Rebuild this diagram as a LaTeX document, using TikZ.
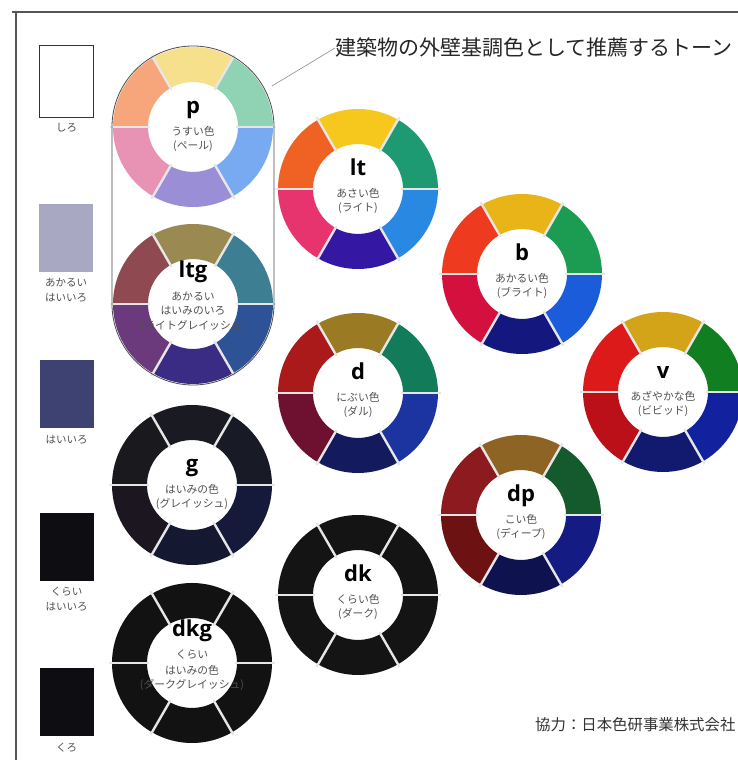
\documentclass[tikz,border=0pt]{standalone}
\usepackage{fontspec}
\newfontfamily\jp{Noto Sans CJK JP}
\newfontfamily\lat{Open Sans}
\usetikzlibrary{calc}
% pale
\definecolor{pA}{HTML}{F6E08C}\definecolor{pB}{HTML}{90D2B4}\definecolor{pC}{HTML}{78AAF2}
\definecolor{pD}{HTML}{9A8ED6}\definecolor{pE}{HTML}{E892B4}\definecolor{pF}{HTML}{F6A67A}
% light grayish
\definecolor{gA}{HTML}{9A8A52}\definecolor{gB}{HTML}{3E7E92}\definecolor{gC}{HTML}{2E5296}
\definecolor{gD}{HTML}{3A2C84}\definecolor{gE}{HTML}{6A3A7C}\definecolor{gF}{HTML}{8E4A50}
% light
\definecolor{lA}{HTML}{F6C81E}\definecolor{lB}{HTML}{1E9A72}\definecolor{lC}{HTML}{2888E2}
\definecolor{lD}{HTML}{3418A4}\definecolor{lE}{HTML}{E8346E}\definecolor{lF}{HTML}{F06224}
% bright
\definecolor{bA}{HTML}{E8B418}\definecolor{bB}{HTML}{1C9C52}\definecolor{bC}{HTML}{1A5CDA}
\definecolor{bD}{HTML}{14187E}\definecolor{bE}{HTML}{D4103E}\definecolor{bF}{HTML}{EE3A1E}
% vivid
\definecolor{vA}{HTML}{D4A418}\definecolor{vB}{HTML}{127E22}\definecolor{vC}{HTML}{12229E}
\definecolor{vD}{HTML}{121A70}\definecolor{vE}{HTML}{BC1018}\definecolor{vF}{HTML}{DC1A1A}
% dull
\definecolor{dA}{HTML}{9A7A22}\definecolor{dB}{HTML}{127C5A}\definecolor{dC}{HTML}{1C34A0}
\definecolor{dD}{HTML}{141A5E}\definecolor{dE}{HTML}{6E1030}\definecolor{dF}{HTML}{AA1A1A}
% deep
\definecolor{eA}{HTML}{8E6424}\definecolor{eB}{HTML}{145A2C}\definecolor{eC}{HTML}{141C84}
\definecolor{eD}{HTML}{0E124E}\definecolor{eE}{HTML}{6C1212}\definecolor{eF}{HTML}{8C1A1E}
% grayish / dark / dark grayish
\definecolor{kA}{HTML}{1A1A22}\definecolor{kB}{HTML}{181A26}\definecolor{kC}{HTML}{161A3A}
\definecolor{kD}{HTML}{141830}\definecolor{kE}{HTML}{1C1620}\definecolor{kF}{HTML}{1A1A1E}
\definecolor{dark}{HTML}{141414}
\definecolor{darker}{HTML}{121212}
% misc
\definecolor{txtgray}{HTML}{505050}
\definecolor{framegray}{HTML}{555555}
\definecolor{swgray}{HTML}{A9A8C2}
\definecolor{swnavy}{HTML}{3E4272}
\definecolor{swblack}{HTML}{0E0E12}
\definecolor{sepcol}{HTML}{E6E6E6}

\newcommand\tonering[7]{%
  \begin{scope}[shift={(#1)}]
    \foreach \s/\c in {60/#2,0/#3,-60/#4,240/#5,180/#6,120/#7}{%
      \fill[\c] ({\s}:80pt) arc[start angle={\s},end angle={\s+60},radius=80pt]
        -- ({\s+60}:45pt) arc[start angle={\s+60},end angle={\s},radius=45pt] -- cycle;}
    \foreach \a in {0,60,...,300}{\draw[sepline] (\a:43pt) -- (\a:83pt);}
  \end{scope}}
\newcommand\twoline[4]{%
  \node[letter,anchor=base] (#1-t) at ($(#1)+(0,13)$) {#2};
  \node[jtext] (#1-a) at ($(#1)+(0,-4)$) {#3};
  \node[jtext] (#1-b) at ($(#1)+(0,-19)$) {#4};}
\newcommand\threeline[5]{%
  \node[letter,anchor=base] (#1-t) at ($(#1)+(0,26)$) {#2};
  \node[jtext] (#1-a) at ($(#1)+(0,8)$) {#3};
  \node[jtext] (#1-b) at ($(#1)+(0,-7)$) {#4};
  \node[jtext] (#1-c) at ($(#1)+(0,-22)$) {#5};}

\begin{document}
\begin{tikzpicture}[x=1pt,y=1pt,
  sepline/.style={draw=sepcol,line width=2.4pt},
  letter/.style={font=\lat\bfseries\fontsize{22}{22}\selectfont,text=black,inner sep=0pt},
  jtext/.style={font=\jp\fontsize{10.8}{12}\selectfont,text=txtgray,inner sep=0pt},
  swlabel/.style={font=\jp\fontsize{10.5}{12}\selectfont,text=txtgray,inner sep=0pt},
  swatch/.style={minimum width=54pt,minimum height=68pt,inner sep=0pt},
  framel/.style={draw=framegray,line width=1.2pt},
  outline/.style={draw=black!70,line width=0.8pt},
  leader/.style={draw=black!45,line width=0.6pt},
  titletext/.style={font=\jp\fontsize{21}{24}\selectfont,text=black!85,inner sep=0pt},
  foottext/.style={font=\jp\fontsize{15.4}{18}\selectfont,text=black!80,inner sep=0pt}]
\useasboundingbox (0,0) rectangle (738,760);
\fill[white] (0,0) rectangle (738,760);
% frame
\draw[framel] (12,748) -- (738,748);
\draw[framel] (16,748) -- (16,0);

% ring centres
\coordinate (p) at (193,633);
\coordinate (ltg) at (193,456);
\coordinate (lt) at (358,571);
\coordinate (b) at (522,486);
\coordinate (v) at (663,368);
\coordinate (d) at (358,367);
\coordinate (g) at (192,275);
\coordinate (dp) at (521,245);
\coordinate (dk) at (358,165);
\coordinate (dkg) at (192,97);

\tonering{p}{pA}{pB}{pC}{pD}{pE}{pF}
\tonering{ltg}{gA}{gB}{gC}{gD}{gE}{gF}
\tonering{lt}{lA}{lB}{lC}{lD}{lE}{lF}
\tonering{b}{bA}{bB}{bC}{bD}{bE}{bF}
\tonering{v}{vA}{vB}{vC}{vD}{vE}{vF}
\tonering{d}{dA}{dB}{dC}{dD}{dE}{dF}
\tonering{dp}{eA}{eB}{eC}{eD}{eE}{eF}
\tonering{g}{kA}{kB}{kC}{kD}{kE}{kF}
\tonering{dk}{dark}{dark}{dark}{dark}{dark}{dark}
\tonering{dkg}{darker}{darker}{darker}{darker}{darker}{darker}

% stadium around p and ltg
\draw[outline] ($(p)+(-81,0)$) arc[start angle=180,end angle=0,radius=81pt]
  -- ($(ltg)+(81,0)$) arc[start angle=0,end angle=-180,radius=81pt] -- cycle;

% centre texts
\twoline{p}{p}{うすい色}{(ペール)}
\threeline{ltg}{ltg}{あかるい}{はいみのいろ}{(ライトグレイッシュ)}
\twoline{lt}{lt}{あさい色}{(ライト)}
\twoline{b}{b}{あかるい色}{(ブライト)}
\twoline{v}{v}{あざやかな色}{(ビビッド)}
\twoline{d}{d}{にぶい色}{(ダル)}
\twoline{dp}{dp}{こい色}{(ディープ)}
\twoline{g}{g}{はいみの色}{(グレイッシュ)}
\twoline{dk}{dk}{くらい色}{(ダーク)}
\threeline{dkg}{dkg}{くらい}{はいみの色}{(ダークグレイッシュ)}

% title and leader
\node[titletext,anchor=west] (title) at (335,712) {建築物の外壁基調色として推薦するトーン};
\coordinate (leadstart) at (272,674);
\draw[leader] (leadstart) -- (title.west);

% swatches
\node[swatch,minimum height=72pt,fill=white,draw=black!80,line width=1pt] (sw1) at (66.5,678) {};
\node[swlabel] (sw1-l) at (66.5,632) {しろ};
\node[swatch,fill=swgray] (sw2) at (66,522) {};
\node[swlabel] (sw2-a) at (66,477) {あかるい};
\node[swlabel] (sw2-b) at (66,462) {はいいろ};
\node[swatch,fill=swnavy] (sw3) at (66.5,366) {};
\node[swlabel] (sw3-l) at (66.5,320) {はいいろ};
\node[swatch,fill=swblack] (sw4) at (66.5,213) {};
\node[swlabel] (sw4-a) at (66.5,168) {くらい};
\node[swlabel] (sw4-b) at (66.5,153) {はいいろ};
\node[swatch,fill=swblack] (sw5) at (66.5,58) {};
\node[swlabel] (sw5-l) at (66.5,12) {くろ};

% footer
\node[foottext,anchor=west] (foot) at (535,35) {協力：日本色研事業株式会社};
\end{tikzpicture}
\end{document}
